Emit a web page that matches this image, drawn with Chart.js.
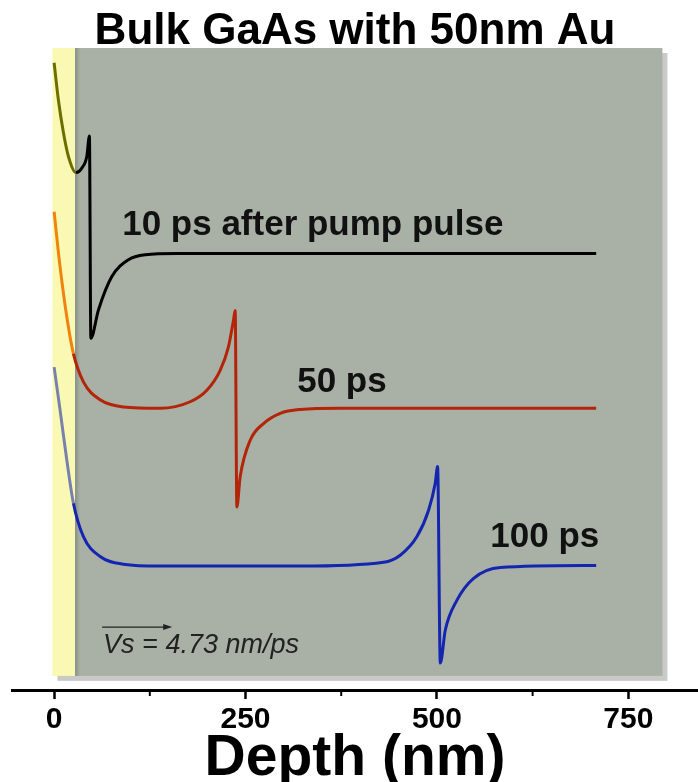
<!DOCTYPE html>
<html>
<head>
<meta charset="utf-8">
<script src="https://cdn.jsdelivr.net/npm/chart.js@4.4.0/dist/chart.umd.min.js"></script>
<style>
  html, body { margin: 0; padding: 0; background: #fff; }
</style>
</head>
<body>
<canvas id="depthChart" width="698" height="782"></canvas>
<script>
'use strict';

// depth (nm) and strain signal (a.u., curves offset vertically)
const DEPTH_10PS = [0, 5.6, 12.2, 18.7, 28.4, 36.2, 42.7, 46.1, 48.0, 57.9, 75.4, 96.7, 118.9, 160, 708];
const SIGNAL_10PS = [97.7, 91.9, 86.8, 83.1, 80.6, 81.3, 83.1, 86.3, 54.8, 59.2, 64.4, 67.0, 67.8, 68.0, 68.0];

const DEPTH_50PS = [0, 7.8, 16.6, 25.2, 38.3, 60.1, 90.2, 138.5, 177.7, 199.5, 216.9, 227.8, 234.3, 236.5,
    238.7, 243.0, 256.1, 273.5, 295.3, 321.4, 373.7, 708];
const SIGNAL_50PS = [74.5, 65.9, 58.1, 52.4, 48.0, 45.2, 44.1, 43.9, 44.9, 46.7, 49.8, 53.5, 57.6, 59.1,
    28.5, 33.2, 38.9, 41.5, 43.1, 43.7, 43.9, 43.9];

const DEPTH_100PS = [0, 7.8, 16.6, 25.2, 38.3, 60.1, 90.2, 138.5, 321.4, 430.3, 452.1, 473.9, 489.1, 497.8,
    500.9, 504.4, 510.9, 526.2, 547.9, 582.8, 708];
const SIGNAL_100PS = [50.3, 43.6, 35.8, 29.1, 23.9, 20.8, 19.6, 19.3, 19.3, 19.9, 21.0, 23.9, 28.0, 32.2,
    34.8, 4.2, 9.3, 14.0, 17.4, 19.1, 19.4];

const MAJOR_TICKS = [0, 250, 500, 750];
const MINOR_TICKS = [125, 375, 625];

// Au film / GaAs substrate panels
const AU_START = -2.2;
const AU_END = 27.4;
const GAAS_END = 794.5;
const PANEL_TOP = 100;
const PANEL_BOTTOM = 2.2;

const FONT = "'Liberation Sans', Arial, Helvetica, sans-serif";
Chart.defaults.font.family = FONT;

function toPoints(xs, ys) {
    return xs.map((x, i) => ({ x: x, y: ys[i] }));
}

// curve segments lying inside the Au layer get the tinted colour
function auTint(inside, outside) {
    return ctx => ctx.p1.parsed.x <= 28.5 ? inside : outside;
}

function curve(xs, ys, color, tint) {
    return {
        data: toPoints(xs, ys),
        borderColor: color,
        borderWidth: 3,
        pointRadius: 0,
        cubicInterpolationMode: 'monotone',
        segment: { borderColor: auTint(tint, color) }
    };
}

const panels = {
    id: 'panels',
    beforeDatasetsDraw(chart) {
        const { ctx, scales: { x, y } } = chart;
        const left = x.getPixelForValue(AU_START);
        const mid = x.getPixelForValue(AU_END);
        const right = x.getPixelForValue(GAAS_END);
        const top = y.getPixelForValue(PANEL_TOP);
        const bottom = y.getPixelForValue(PANEL_BOTTOM);
        ctx.save();
        ctx.fillStyle = '#c9c9c9';
        ctx.fillRect(left + 5, top + 5, right - left, bottom - top);
        ctx.fillStyle = '#f9f9b4';
        ctx.fillRect(left, top, mid - left, bottom - top);
        ctx.fillStyle = '#a9b1a7';
        ctx.fillRect(mid, top, right - mid, bottom - top);
        const g = ctx.createLinearGradient(mid, 0, mid + 5, 0);
        g.addColorStop(0, '#879084');
        g.addColorStop(1, '#a9b1a7');
        ctx.fillStyle = g;
        ctx.fillRect(mid, top, 5, bottom - top);
        ctx.restore();
    }
};

const notes = {
    id: 'notes',
    afterDatasetsDraw(chart) {
        const { ctx, scales: { x, y } } = chart;
        ctx.save();
        ctx.fillStyle = '#111';
        ctx.textBaseline = 'middle';
        ctx.textAlign = 'left';
        ctx.font = 'bold 35px ' + FONT;
        ctx.fillText('10 ps after pump pulse', x.getPixelForValue(88.9), y.getPixelForValue(72.4));
        ctx.fillText('50 ps', x.getPixelForValue(317.5), y.getPixelForValue(48.0));
        ctx.fillText('100 ps', x.getPixelForValue(569.7), y.getPixelForValue(23.8));

        ctx.font = 'italic 27px ' + FONT;
        ctx.fillStyle = '#222';
        ctx.fillText('Vs = 4.73 nm/ps', x.getPixelForValue(64), y.getPixelForValue(7.0));

        // sound velocity arrow
        const ax0 = x.getPixelForValue(62.7);
        const ax1 = x.getPixelForValue(154.2);
        const ay = y.getPixelForValue(9.8);
        ctx.strokeStyle = '#222';
        ctx.lineWidth = 1.2;
        ctx.beginPath();
        ctx.moveTo(ax0, ay);
        ctx.lineTo(ax1 - 4, ay);
        ctx.stroke();
        ctx.beginPath();
        ctx.moveTo(ax1, ay);
        ctx.lineTo(ax1 - 9, ay - 3);
        ctx.lineTo(ax1 - 9, ay + 3);
        ctx.closePath();
        ctx.fill();

        // short minor ticks under the axis line
        const base = chart.chartArea.bottom;
        ctx.strokeStyle = '#000';
        ctx.lineWidth = 2;
        MINOR_TICKS.forEach(v => {
            const px = x.getPixelForValue(v);
            ctx.beginPath();
            ctx.moveTo(px, base);
            ctx.lineTo(px, base + 6);
            ctx.stroke();
        });
        ctx.restore();
    }
};

new Chart(document.getElementById('depthChart'), {
    type: 'line',
    data: {
        datasets: [
            curve(DEPTH_10PS, SIGNAL_10PS, '#000000', '#6e6e00'),
            curve(DEPTH_50PS, SIGNAL_50PS, '#b32408', '#f0820e'),
            curve(DEPTH_100PS, SIGNAL_100PS, '#1426b0', '#7a80ae')
        ]
    },
    options: {
        responsive: false,
        animation: false,
        devicePixelRatio: 1,
        layout: { padding: { left: 12, right: 0, top: 0, bottom: 0 } },
        plugins: {
            legend: { display: false },
            tooltip: { enabled: false },
            title: {
                display: true,
                text: 'Bulk GaAs with 50nm Au',
                color: '#000',
                font: { size: 44, weight: 'bold', lineHeight: 1.0 },
                padding: { top: 10, bottom: 0 }
            }
        },
        scales: {
            x: {
                type: 'linear',
                min: -55,
                max: 841,
                afterBuildTicks: s => { s.ticks = MAJOR_TICKS.map(v => ({ value: v })); },
                afterFit: s => { s.height = 92; },
                ticks: {
                    color: '#000',
                    padding: 3,
                    maxRotation: 0,
                    font: { size: 30, weight: 'bold' }
                },
                grid: {
                    drawOnChartArea: false,
                    drawTicks: true,
                    tickLength: 9,
                    tickWidth: 2.5,
                    tickColor: '#000'
                },
                border: { display: true, color: '#000', width: 3 },
                title: {
                    display: true,
                    text: 'Depth (nm)',
                    color: '#000',
                    font: { size: 57, weight: 'bold', lineHeight: 0.8 },
                    padding: 0
                }
            },
            y: {
                display: false,
                min: 0,
                max: 99.07
            }
        }
    },
    plugins: [panels, notes]
});
</script>
</body>
</html>
